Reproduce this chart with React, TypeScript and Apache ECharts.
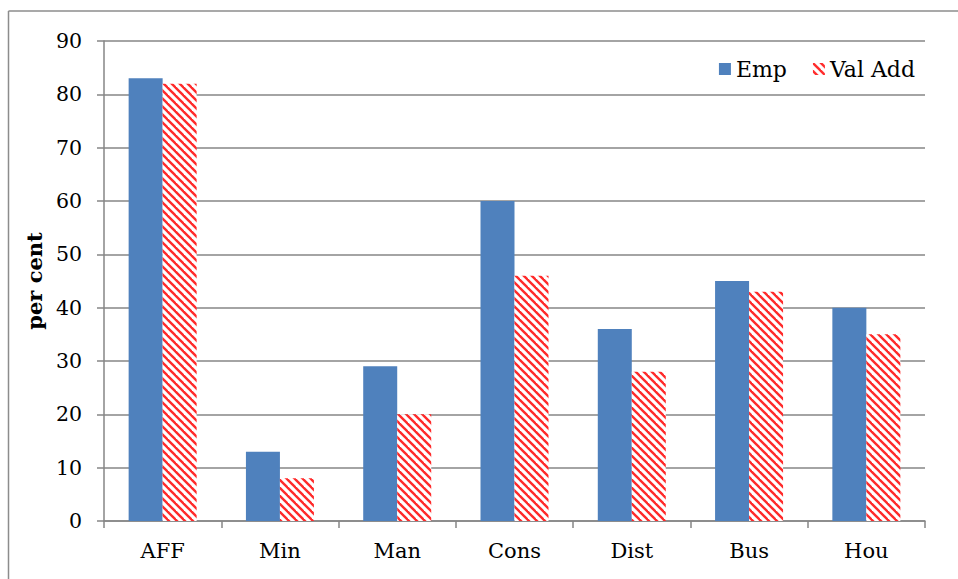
import React, { useEffect, useRef } from "react";
import * as echarts from "echarts";

const categories = ["AFF", "Min", "Man", "Cons", "Dist", "Bus", "Hou"];
const empValues = [83, 13, 29, 60, 36, 45, 40];
const valAddValues = [82, 8, 20, 46, 28, 43, 35];
const yTicks = { min: 0, max: 90, interval: 10 };

function makeHatch(): HTMLCanvasElement {
  const c = document.createElement("canvas");
  const s = 8;
  c.width = s;
  c.height = s;
  const ctx = c.getContext("2d")!;
  ctx.fillStyle = "#ffffff";
  ctx.fillRect(0, 0, s, s);
  ctx.strokeStyle = "#ff2a2a";
  ctx.lineWidth = 2.4;
  for (let k = -1; k <= 1; k++) {
    ctx.beginPath();
    ctx.moveTo(k * s - 1, -1);
    ctx.lineTo(k * s + s + 1, s + 1);
    ctx.stroke();
  }
  return c;
}

export default function App() {
  const ref = useRef<HTMLDivElement>(null);
  useEffect(() => {
    if (!ref.current) return;
    const chart = echarts.init(ref.current, null, { renderer: "svg" });
    const hatch = { image: makeHatch(), repeat: "repeat" } as any;
    const font = "'DejaVu Serif', 'Liberation Serif', serif";
    chart.setOption({
      animation: false,
      backgroundColor: "#ffffff",
      textStyle: { fontFamily: font },
      graphic: [
        { type: "line", shape: { x1: 8.5, y1: 11, x2: 958, y2: 11 }, style: { stroke: "#8c8c8c", lineWidth: 1.5 } },
        { type: "line", shape: { x1: 8.5, y1: 11, x2: 8.5, y2: 579 }, style: { stroke: "#8c8c8c", lineWidth: 1.5 } },
      ],
      legend: {
        right: 38,
        top: 53,
        itemWidth: 12,
        itemHeight: 12,
        itemGap: 26,
        textStyle: { fontFamily: font, fontSize: 22, color: "#000" },
        data: [
          { name: "Emp", icon: "rect" },
          { name: "Val Add", icon: "rect" },
        ],
      },
      grid: { left: 104, right: 33, top: 41, bottom: 58, containLabel: false },
      xAxis: {
        type: "category",
        data: categories,
        axisLine: { lineStyle: { color: "#868686", width: 1.5 } },
        axisTick: { show: true, length: 7, lineStyle: { color: "#868686", width: 1.5 } },
        axisLabel: { fontFamily: font, fontSize: 21, color: "#000", margin: 19 },
      },
      yAxis: {
        type: "value",
        min: yTicks.min,
        max: yTicks.max,
        interval: yTicks.interval,
        name: "per cent",
        nameLocation: "middle",
        nameGap: 58,
        nameTextStyle: { fontFamily: font, fontSize: 21, fontWeight: "bold", color: "#000" },
        axisLine: { show: true, lineStyle: { color: "#868686", width: 1.5 } },
        axisTick: { show: true, length: 7, lineStyle: { color: "#868686", width: 1.5 } },
        axisLabel: { fontFamily: font, fontSize: 20.5, color: "#000", margin: 22 },
        splitLine: { lineStyle: { color: "#868686", width: 1.5 } },
      },
      series: [
        {
          name: "Emp",
          type: "bar",
          data: empValues,
          barWidth: 34,
          barGap: "0%",
          itemStyle: { color: "#4f81bd" },
        },
        {
          name: "Val Add",
          type: "bar",
          data: valAddValues,
          barWidth: 34,
          barGap: "0%",
          itemStyle: { color: hatch },
        },
      ],
    });
    return () => chart.dispose();
  }, []);
  return <div ref={ref} style={{ width: 958, height: 579, position: "absolute", left: 0, top: 0 }} />;
}
